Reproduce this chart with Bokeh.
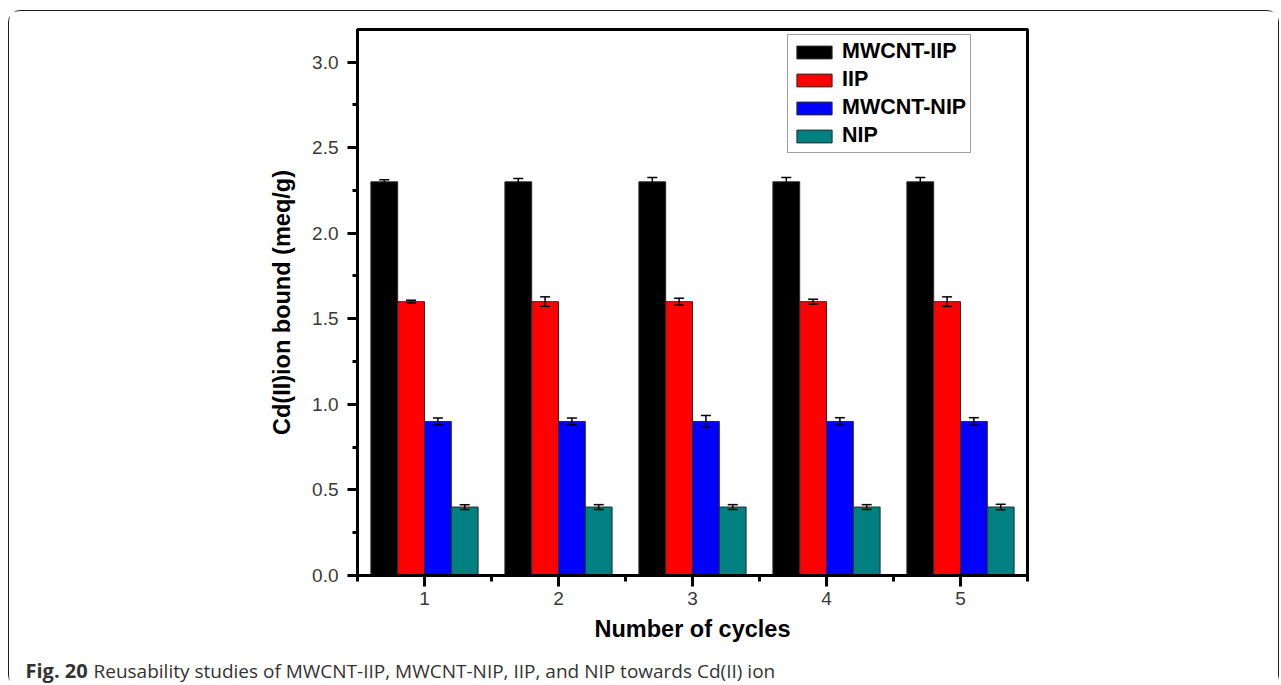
from bokeh.plotting import figure
from bokeh.layouts import column
from bokeh.models import (ColumnDataSource, Whisker, TeeHead, FixedTicker,
                          PrintfTickFormatter, Label, Range1d)
from bokeh.transform import dodge
from bokeh.embed import file_html
from bokeh.resources import INLINE

# Reusability data: Cd(II) bound (meq/g) over five adsorption cycles
cycles = [1, 2, 3, 4, 5]
series_names = ["MWCNT-IIP", "IIP", "MWCNT-NIP", "NIP"]
mwcnt_iip = [2.30, 2.30, 2.30, 2.30, 2.30]
iip = [1.60, 1.60, 1.60, 1.60, 1.60]
mwcnt_nip = [0.90, 0.90, 0.90, 0.90, 0.90]
nip = [0.40, 0.40, 0.40, 0.40, 0.40]
err_mwcnt_iip = [0.012, 0.020, 0.025, 0.025, 0.025]
err_iip = [0.008, 0.028, 0.020, 0.014, 0.028]
err_mwcnt_nip = [0.020, 0.020, 0.035, 0.022, 0.022]
err_nip = [0.014, 0.014, 0.014, 0.014, 0.016]
y_ticks = [0.0, 0.5, 1.0, 1.5, 2.0, 2.5, 3.0]
y_minor = [0.25, 0.75, 1.25, 1.75, 2.25, 2.75]
x_minor = [0.5, 1.5, 2.5, 3.5, 4.5, 5.5]
caption_bold = "Fig. 20"
caption_text = "Reusability studies of MWCNT-IIP, MWCNT-NIP, IIP, and NIP towards Cd(II) ion"

values = [mwcnt_iip, iip, mwcnt_nip, nip]
errors = [err_mwcnt_iip, err_iip, err_mwcnt_nip, err_nip]
colors = ["#000000", "#ff0000", "#0000ff", "#008080"]
offsets = [-0.3, -0.1, 0.1, 0.3]

FONT = "Liberation Sans"
W = 1269

p = figure(width=W, height=639, output_backend="svg", toolbar_location=None,
           x_range=Range1d(0.5, 5.5), y_range=Range1d(0, 3.19),
           min_border_left=348, min_border_right=251,
           min_border_top=18, min_border_bottom=75)
p.frame_align = False
p.background_fill_color = "white"
p.border_fill_color = "white"
p.outline_line_color = "black"
p.outline_line_width = 3
p.xgrid.visible = False
p.ygrid.visible = False

for name, vals, errs, col, off in zip(series_names, values, errors, colors, offsets):
    src = ColumnDataSource(dict(
        cycle=cycles, value=vals,
        upper=[v + e for v, e in zip(vals, errs)],
        lower=[v - e for v, e in zip(vals, errs)],
    ))
    p.vbar(x=dodge("cycle", off), top="value", bottom=0, width=0.2, source=src,
           fill_color=col, line_color="#2a2a2a", line_width=1, legend_label=name)
    w = Whisker(source=src, base=dodge("cycle", off), upper="upper", lower="lower",
                line_color="black", line_width=1.5,
                upper_head=TeeHead(size=10, line_width=1.5, line_color="black"),
                lower_head=TeeHead(size=10, line_width=1.5, line_color="black"))
    w.level = "overlay"
    p.add_layout(w)

# axes
for ax in (p.xaxis[0], p.yaxis[0]):
    ax.axis_line_width = 3
    ax.axis_line_color = "black"
    ax.major_tick_line_width = 3
    ax.minor_tick_line_width = 3
    ax.major_tick_in = 0
    ax.minor_tick_in = 0
    ax.major_label_text_font = FONT
    ax.major_label_text_font_size = "19px"
    ax.major_label_text_color = "#3a3a3a"
    ax.axis_label_text_font = FONT
    ax.axis_label_text_font_size = "23.5px"
    ax.axis_label_text_font_style = "bold"
    ax.axis_label_text_color = "black"

p.xaxis.ticker = FixedTicker(ticks=cycles, minor_ticks=x_minor)
p.xaxis.major_tick_out = 11
p.xaxis.minor_tick_out = 6
p.xaxis.major_label_standoff = 5
p.xaxis.axis_label = "Number of cycles"
p.xaxis.axis_label_standoff = 8

p.yaxis.ticker = FixedTicker(ticks=y_ticks, minor_ticks=y_minor)
p.yaxis.formatter = PrintfTickFormatter(format="%.1f")
p.yaxis.major_tick_out = 10
p.yaxis.minor_tick_out = 5
p.yaxis.major_label_standoff = 9
p.yaxis.axis_label = "Cd(II)ion bound (meq/g)"
p.yaxis.axis_label_standoff = 14

# legend
lg = p.legend[0]
lg.location = (430, 422)
lg.label_text_font = FONT
lg.label_text_font_size = "21.5px"
lg.label_text_font_style = "bold"
lg.label_text_color = "black"
lg.glyph_width = 44
lg.glyph_height = 16
lg.label_standoff = 6
lg.spacing = 3
lg.padding = 4
lg.margin = 0
lg.border_line_color = "#444444"
lg.border_line_width = 1
lg.background_fill_alpha = 1

# caption strip under the chart; its ranges are in pixels
cap_h = 36
cap = figure(width=W, height=cap_h, output_backend="svg", toolbar_location=None,
             x_range=Range1d(0, W), y_range=Range1d(0, cap_h),
             min_border=0, x_axis_type=None, y_axis_type=None)
cap.frame_align = False
cap.outline_line_color = None
cap.xgrid.visible = False
cap.ygrid.visible = False
cap.add_layout(Label(x=16, y=16, text=caption_bold, text_font="Open Sans",
                     text_font_style="bold", text_font_size="20px",
                     text_color="#333333", text_baseline="alphabetic"))
cap.add_layout(Label(x=84, y=16, text=caption_text, text_font="Open Sans",
                     text_font_size="19px", text_color="#333333",
                     text_baseline="alphabetic"))

page = column(p, cap, spacing=0, margin=(10, 0, 0, 8),
              styles={"border": "1.5px solid #1e1e1e", "border-radius": "12px",
                      "background": "white"})

open("out.html", "w").write(file_html(page, INLINE))
